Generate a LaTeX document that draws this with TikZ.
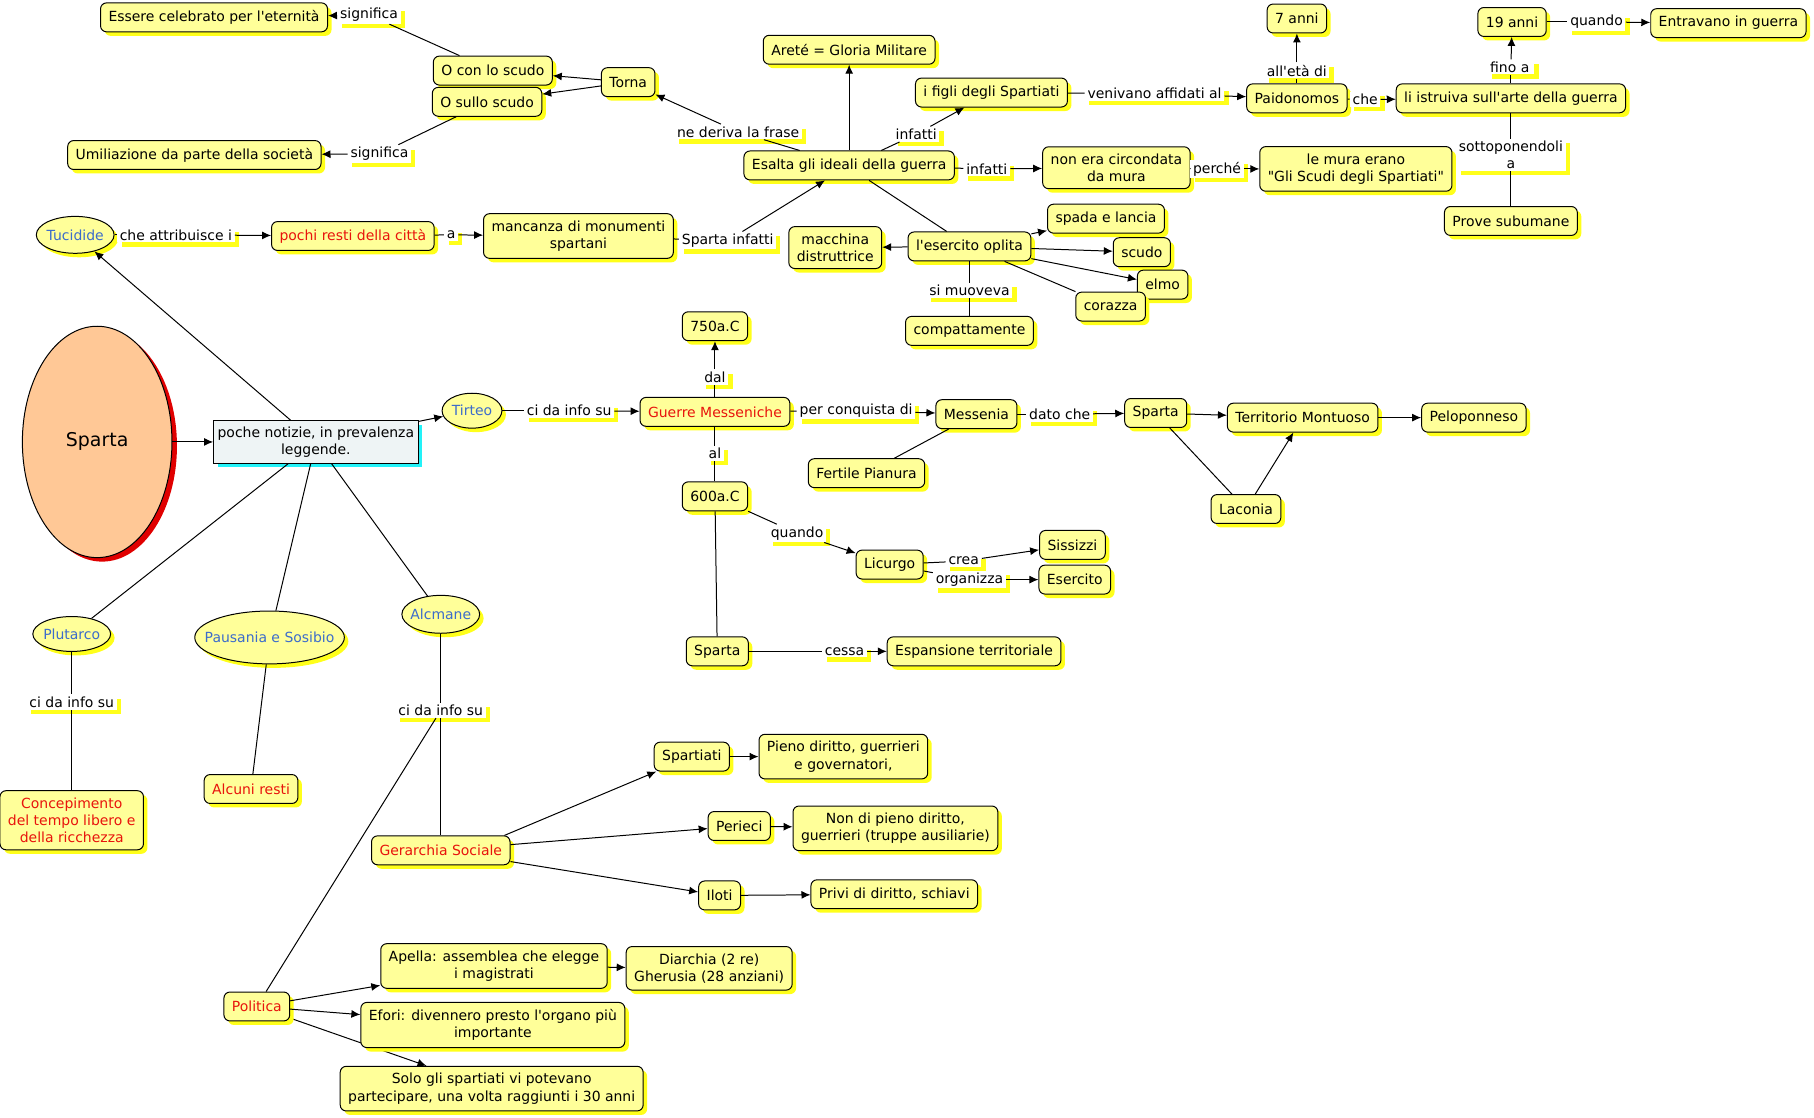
\documentclass[tikz,border=0pt]{standalone}
\usepackage{fontspec}
\setmainfont{DejaVu Sans}[Ligatures=TeXOff]
\usetikzlibrary{arrows.meta,shapes.geometric,shadows,backgrounds}
\definecolor{cpale}{HTML}{FFFF99}
\definecolor{cshade}{HTML}{FFFF1A}
\definecolor{cblue}{HTML}{3C6CCB}
\definecolor{cred}{HTML}{E8140C}
\definecolor{cpeach}{HTML}{FFC896}
\definecolor{cdred}{HTML}{E00000}
\definecolor{cice}{HTML}{EEF4F5}
\definecolor{ccyan}{HTML}{22F2F8}
\begin{document}
\begin{tikzpicture}[x=0.58pt,y=-0.58pt,>={Latex[length=4.5pt,width=4pt]},
 cn/.style={draw,fill=cpale,rounded corners=3pt,align=center,font=\fontsize{7}{8.6}\selectfont,inner xsep=4pt,inner ysep=3.5pt,minimum height=14.5pt,line width=.5pt,drop shadow={shadow xshift=2pt,shadow yshift=-2pt,fill=cshade,opacity=1}},
 rd/.style={cn,text=cred},
 elp/.style={cn,ellipse,text=cblue,inner xsep=-1.5pt,inner ysep=0pt},
 lb/.style={fill=white,inner xsep=1.3pt,inner ysep=1pt,align=center,font=\fontsize{7}{8.6}\selectfont,drop shadow={shadow xshift=2.2pt,shadow yshift=-2.2pt,fill=cshade,opacity=1}},
 ln/.style={draw,line width=.5pt},ar/.style={->,draw,line width=.5pt}]
\useasboundingbox (0,0) rectangle (1568,966);
% top left: the shield
\node[cn] (ess) at (185,15) {Essere celebrato per l'eternità};
\node[lb] (lsig1) at (319,13) {significa};
\node[cn] (ocon) at (426,61) {O con lo scudo};
\node[cn] (osul) at (421,88) {O sullo scudo};
\node[cn] (torna) at (543,71) {Torna};
\node[cn] (umil) at (168,134) {Umiliazione da parte della società};
\node[lb] (lsig2) at (328,133) {significa};
% war ideals
\node[cn] (arete) at (734,43) {Areté = Gloria Militare};
\node[lb] (lderiva) at (638,114) {ne deriva la frase};
\node[lb] (linf1) at (792,116) {infatti};
\node[cn] (figli) at (857,80) {i figli degli Spartiati};
\node[cn] (esalta) at (734,143) {Esalta gli ideali della guerra};
\node[lb] (laff) at (998,81) {venivano affidati al};
\node[cn] (paido) at (1121,85) {Paidonomos};
\node[lb] (leta) at (1121,61) {all'età di};
\node[cn] (sette) at (1121,16) {7 anni};
\node[lb] (lche) at (1180,86) {che};
\node[cn] (istr) at (1306,85) {li istruiva sull'arte della guerra};
\node[lb] (lfino) at (1306,58) {fino a\,};
\node[cn] (dician) at (1307,19) {19 anni};
\node[lb] (lquando1) at (1380,19) {quando};
\node[cn] (entr) at (1494,20) {Entravano in guerra};
\node[lb] (lsotto) at (1306,134) {sottoponendoli\\a};
\node[cn] (prove) at (1306,191) {Prove subumane};
\node[lb] (linf2) at (853,146) {infatti};
\node[cn] (mura) at (965,145) {non era circondata\\da mura};
\node[lb] (lperche) at (1052,146) {perché};
\node[cn] (scudi) at (1172,146) {le mura erano\\"Gli Scudi degli Spartiati"};
% Tucidide row and the army
\node[elp,minimum width=39pt,minimum height=18.5pt] (tuc) at (65,203) {Tucidide};
\node[lb] (lattr) at (152,203) {che attribuisce i};
\node[rd] (pochi) at (305,204) {pochi resti della città};
\node[lb] (la) at (390,203) {a};
\node[cn] (manc) at (500,204) {mancanza di monumenti\\spartani};
\node[lb] (lspinf) at (629,208) {Sparta infatti};
\node[cn] (macch) at (722,214) {macchina\\distruttrice};
\node[cn] (oplita) at (838,213) {l'esercito oplita};
\node[cn] (spada) at (956,189) {spada e lancia};
\node[cn] (scudo) at (987,218) {scudo};
\node[cn] (elmo) at (1005,246) {elmo};
\node[cn] (corazza) at (960,265) {corazza};
\node[lb] (lmuov) at (838,251) {si muoveva};
\node[cn] (compatt) at (838,286) {compattamente};
% centre
\node[draw,ellipse,fill=cpeach,line width=.5pt,minimum width=75pt,minimum height=116pt,font=\fontsize{9.5}{11}\selectfont,drop shadow={shadow xshift=2.5pt,shadow yshift=-2pt,fill=cdred,opacity=1}] (sparta) at (84,382) {Sparta};
\node[draw,fill=cice,align=center,line width=.5pt,font=\fontsize{7}{8.6}\selectfont,inner xsep=2pt,inner ysep=3pt,drop shadow={shadow xshift=2pt,shadow yshift=-2pt,fill=ccyan,opacity=1}] (poche) at (273,382) {poche notizie, in prevalenza\\leggende.};
\node[elp,minimum width=30pt,minimum height=17.5pt] (tirteo) at (408,355) {Tirteo};
\node[lb] (linfo1) at (492,355) {ci da info su};
\node[rd] (guerre) at (618,356) {Guerre Messeniche};
\node[cn] (s750) at (618,282) {750a.C};
\node[lb] (ldal) at (618,326) {dal};
\node[lb] (lal) at (618,392) {al};
\node[cn] (s600) at (618,429) {600a.C};
\node[lb] (lconq) at (740,355) {per conquista di};
\node[cn] (messenia) at (844,358) {Messenia};
\node[cn] (fertile) at (749,409) {Fertile Pianura};
\node[lb] (ldato) at (916,358) {dato che};
\node[cn] (sparta2) at (999,357) {Sparta};
\node[cn] (territ) at (1126,361) {Territorio Montuoso};
\node[cn] (pelop) at (1274,361) {Peloponneso};
\node[cn] (laconia) at (1077,440) {Laconia};
\node[lb] (lquando2) at (689,461) {quando};
\node[cn] (licurgo) at (769,488) {Licurgo};
\node[lb] (lcrea) at (833,485) {crea};
\node[cn] (sissizzi) at (927,471) {Sissizzi};
\node[lb] (lorg) at (838,501) {organizza};
\node[cn] (esercito) at (929,501) {Esercito};
\node[cn] (sparta3) at (620,563) {Sparta};
\node[lb] (lcessa) at (730,563) {cessa};
\node[cn] (espans) at (842,563) {Espansione territoriale};
% lower left sources
\node[elp,minimum width=39pt,minimum height=17.5pt] (plutarco) at (62,548) {Plutarco};
\node[elp,inner xsep=-6pt,minimum width=75pt,minimum height=26.5pt] (pausania) at (233,551) {Pausania e Sosibio};
\node[elp,minimum width=39pt,minimum height=19pt] (alcmane) at (381,531) {Alcmane};
\node[lb] (linfo2) at (62,607) {ci da info su};
\node[rd] (concep) at (62,709) {Concepimento\\del tempo libero e\\della ricchezza};
\node[rd] (alcuni) at (217,682) {Alcuni resti};
\node[lb] (linfo3) at (381,614) {ci da info su};
\node[rd] (gerarchia) at (381,735) {Gerarchia Sociale};
\node[rd] (politica) at (222,870) {Politica};
\node[cn] (spartiati) at (598,654) {Spartiati};
\node[cn] (pieno) at (729,654) {Pieno diritto, guerrieri\\e governatori,};
\node[cn] (perieci) at (639,714) {Perieci};
\node[cn] (nonpieno) at (774,716) {Non di pieno diritto,\\guerrieri (truppe ausiliarie)};
\node[cn] (iloti) at (622,774) {Iloti};
\node[cn] (privi) at (773,773) {Privi di diritto, schiavi};
\node[cn] (apella) at (427,835) {Apella: assemblea che elegge\\i magistrati};
\node[cn] (diarchia) at (613,837) {Diarchia (2 re)\\Gherusia (28 anziani)};
\node[cn] (efori) at (426,886) {Efori: divennero presto l'organo più\\importante};
\node[cn] (solo) at (425,941) {Solo gli spartiati vi potevano\\partecipare, una volta raggiunti i 30 anni};
% connectors
\draw[ln] (ocon)--(lsig1);\draw[ar] (lsig1)--(ess);\draw[ln] (osul)--(lsig2);\draw[ar] (lsig2)--(umil);
\draw[ar] (torna)--(ocon);\draw[ar] (torna)--(osul);\draw[ln] (esalta)--(lderiva);\draw[ar] (lderiva)--(torna);
\draw[ar] (esalta)--(arete);\draw[ln] (esalta)--(linf1);\draw[ar] (linf1)--(figli);
\draw[ln] (figli)--(laff);\draw[ar] (laff)--(paido);\draw[ln] (paido)--(leta);\draw[ar] (leta)--(sette);
\draw[ln] (paido)--(lche);\draw[ar] (lche)--(istr);\draw[ln] (istr)--(lfino);\draw[ar] (lfino)--(dician);
\draw[ln] (dician)--(lquando1);\draw[ar] (lquando1)--(entr);\draw[ln] (istr)--(lsotto);\draw[ln] (lsotto)--(prove);
\draw[ln] (esalta)--(linf2);\draw[ar] (linf2)--(mura);\draw[ln] (mura)--(lperche);\draw[ar] (lperche)--(scudi);
\draw[ln] (tuc)--(lattr);\draw[ar] (lattr)--(pochi);\draw[ln] (pochi)--(la);\draw[ar] (la)--(manc);
\draw[ln] (manc)--(lspinf);\draw[ar] (lspinf)--(esalta);\draw[ln] ([xshift=10pt]esalta.south)--(oplita);\draw[ar] (oplita)--(macch);
\draw[ar] (oplita)--(spada);\draw[ar] (oplita)--(scudo);\draw[ar] (oplita)--(elmo);\draw[ln] (oplita)--(corazza);
\draw[ln] (oplita)--(lmuov);\draw[ln] (lmuov)--(compatt);
\draw[ar] (sparta)--(poche);\draw[ar] (poche)--(tuc);\draw[ar] (poche)--(tirteo);
\draw[ln] (poche)--(plutarco);\draw[ln] (poche)--(pausania);\draw[ln] (poche)--(alcmane);
\draw[ln] (tirteo)--(linfo1);\draw[ar] (linfo1)--(guerre);\draw[ln] (guerre)--(ldal);\draw[ar] (ldal)--(s750);
\draw[ln] (guerre)--(lal);\draw[ln] (lal)--(s600);\draw[ln] (guerre)--(lconq);\draw[ar] (lconq)--(messenia);
\draw[ln] (messenia)--(fertile);\draw[ln] (messenia)--(ldato);\draw[ar] (ldato)--(sparta2);
\draw[ar] (sparta2)--(territ);\draw[ar] (territ)--(pelop);\draw[ln] (sparta2)--(laconia);\draw[ar] (laconia)--(territ);
\draw[ln] (s600)--(lquando2);\draw[ar] (lquando2)--(licurgo);\draw[ln] (licurgo)--(lcrea);\draw[ar] (lcrea)--(sissizzi);
\draw[ln] (licurgo)--(lorg);\draw[ar] (lorg)--(esercito);\draw[ln] (s600)--(sparta3);
\draw[ln] (sparta3)--(lcessa);\draw[ar] (lcessa)--(espans);
\draw[ln] (plutarco)--(linfo2);\draw[ln] (linfo2)--(concep);\draw[ln] (pausania)--(alcuni);
\draw[ln] (alcmane)--(linfo3);\draw[ln] (linfo3)--(gerarchia);\draw[ln] (linfo3)--(politica);
\draw[ar] ([xshift=-3pt]gerarchia.north east)--(spartiati);\draw[ar] (gerarchia)--(perieci);\draw[ar] (gerarchia)--(iloti);
\draw[ar] (spartiati)--(pieno);\draw[ar] (perieci)--(nonpieno);\draw[ar] (iloti)--(privi);
\draw[ar] (politica)--(apella);\draw[ar] (politica)--(efori);\draw[ar] (apella)--(diarchia);
\begin{scope}[on background layer]
\draw[ar] (politica)--(solo);
\end{scope}
\end{tikzpicture}
\end{document}
